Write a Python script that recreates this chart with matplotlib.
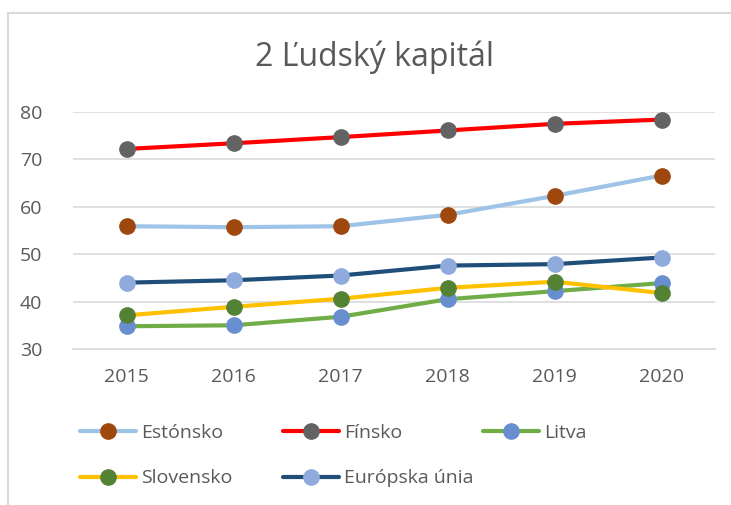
import matplotlib
matplotlib.use('Agg')
import matplotlib.pyplot as plt
from matplotlib.lines import Line2D
from matplotlib.patches import Rectangle

plt.rcParams['font.family'] = ['Open Sans', 'DejaVu Sans']

years = ['2015', '2016', '2017', '2018', '2019', '2020']
estonsko = [55.9, 55.7, 55.9, 58.3, 62.3, 66.6]
finsko = [72.2, 73.4, 74.7, 76.1, 77.5, 78.4]
litva = [34.8, 35.0, 36.8, 40.5, 42.2, 43.9]
slovensko = [37.1, 38.9, 40.6, 42.9, 44.2, 41.8]
eu = [44.0, 44.5, 45.5, 47.6, 47.9, 49.3]

names = ['Estónsko', 'Fínsko', 'Litva', 'Slovensko', 'Európska únia']
line_colors = ['#9DC3E6', '#FF0000', '#70AD47', '#FFC000', '#1F4E79']
marker_colors = ['#9E480E', '#636363', '#698ED0', '#548235', '#8FAADC']

text_color = '#595959'
grid_color = '#D9D9D9'

W, H = 731, 505
fig = plt.figure(figsize=(W / 100, H / 100), dpi=100)

# chart border (left and top visible, rest is cut off)
fig.patches.append(Rectangle((8 / W, -0.2), 1.2, 1.2 - 13 / H, transform=fig.transFigure,
                             fill=False, edgecolor=grid_color, lw=1.5))

ax = fig.add_axes([73 / W, 1 - 349 / H, (715 - 73) / W, (349 - 112) / H])

x = list(range(len(years)))
series = [estonsko, finsko, litva, slovensko, eu]
handles = []
for vals, name, lc, mc in zip(series, names, line_colors, marker_colors):
    ax.plot(x, vals, color=lc, lw=3, solid_capstyle='round', zorder=3)
    ax.plot(x, vals, ls='none', marker='o', ms=11, mfc=mc, mec=mc, zorder=4)
    handles.append(Line2D([], [], color=lc, lw=3, solid_capstyle='round',
                          marker='o', ms=11, mfc=mc, mec=mc, label=name))

ax.set_xlim(-0.5, len(years) - 0.5)
ax.set_ylim(30, 80)
ax.set_yticks([30, 40, 50, 60, 70, 80])
ax.set_xticks(x)
ax.set_xticklabels(years)
ax.grid(axis='y', color=grid_color, lw=1.2)
ax.set_axisbelow(True)
for s in ['top', 'right', 'left']:
    ax.spines[s].set_visible(False)
ax.spines['bottom'].set_color(grid_color)
ax.spines['bottom'].set_linewidth(1.2)
ax.tick_params(length=0, labelsize=14, labelcolor=text_color)
ax.tick_params(axis='y', pad=22)
ax.tick_params(axis='x', pad=14)

fig.text(375 / W, 1 - 57 / H, '2 Ľudský kapitál', ha='center', va='center',
         fontsize=23, color=text_color)

# legend in three columns like the original
cols = [([handles[0], handles[3]], 80, 455.5),
        ([handles[1], handles[4]], 283, 455.5),
        ([handles[2]], 483, 433)]
for hs, lx, ly in cols:
    leg = fig.legend(handles=hs, loc='center left', bbox_to_anchor=(lx / W, 1 - ly / H),
                     frameon=False, fontsize=14, labelcolor=text_color, numpoints=1,
                     handlelength=2.9, handletextpad=0.25, borderpad=0,
                     borderaxespad=0, labelspacing=1.42)

fig.savefig('out.png', dpi=100)
